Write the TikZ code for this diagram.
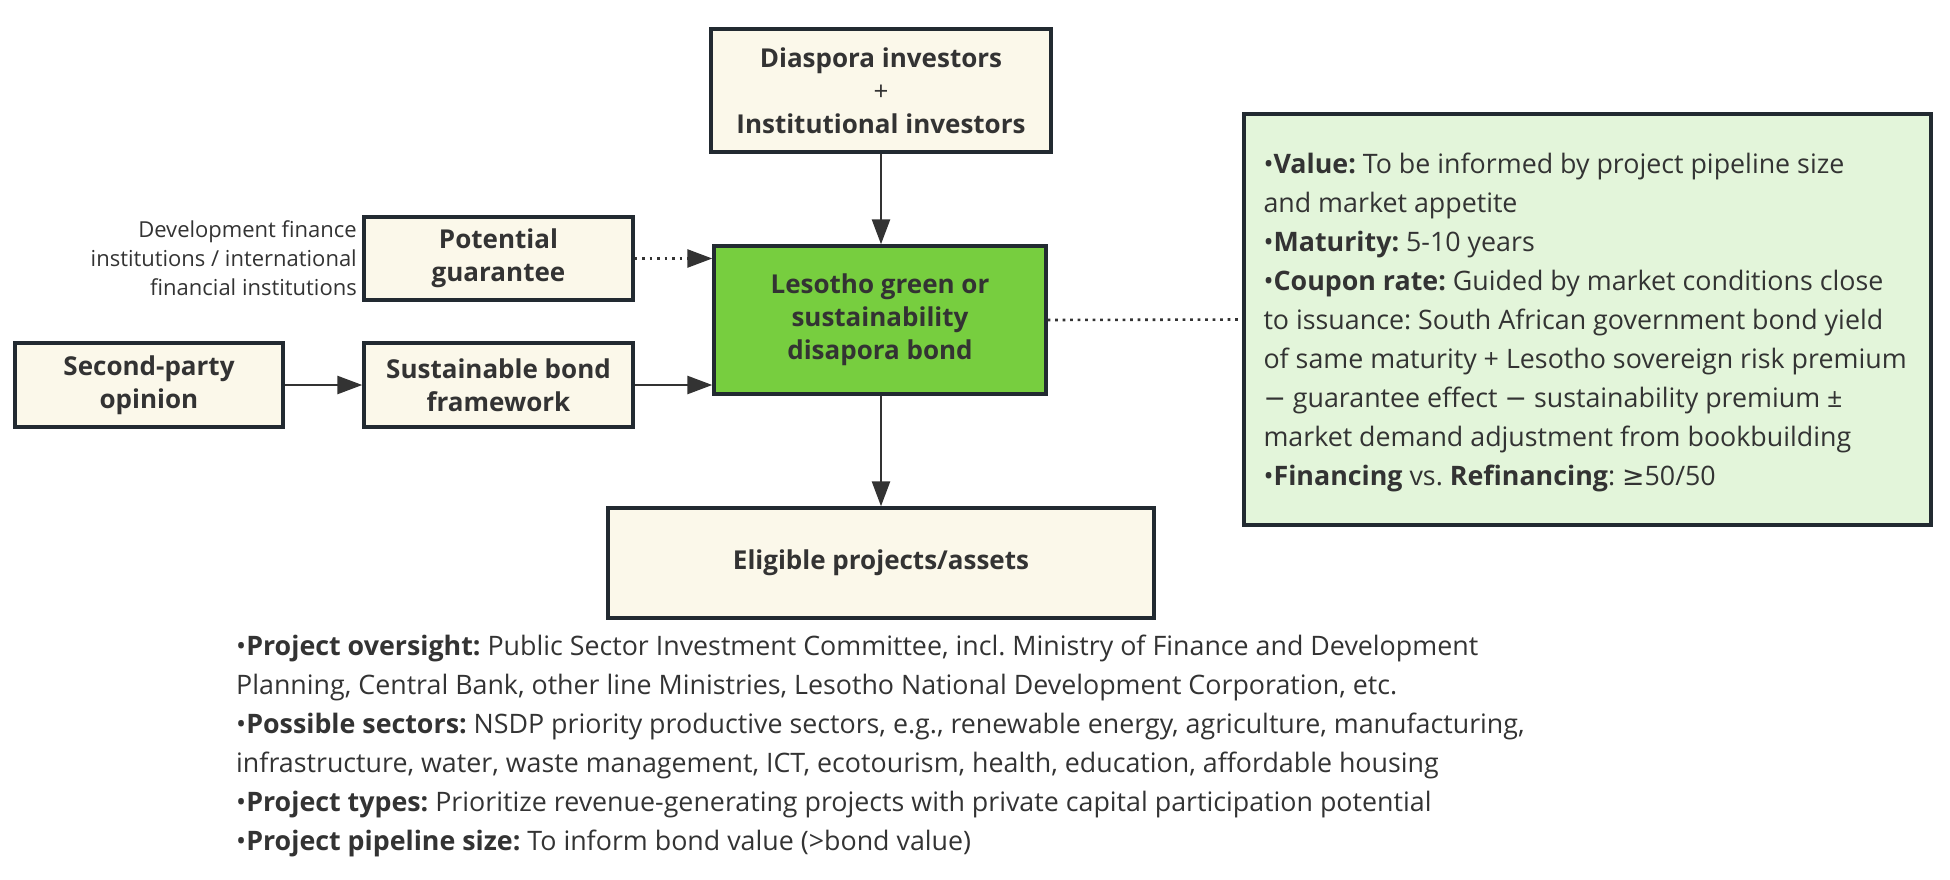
\documentclass[tikz,border=0pt]{standalone}
\usepackage{fontspec}
\setmainfont{Open Sans}
\newfontfamily\symfont{DejaVu Sans}
\usetikzlibrary{arrows.meta}
\frenchspacing
\definecolor{cream}{HTML}{FBF8EA}
\definecolor{bondgreen}{HTML}{77CE3F}
\definecolor{infogreen}{HTML}{E3F5DA}
\definecolor{edge}{HTML}{222A31}
\definecolor{txt}{HTML}{333333}
\tikzset{
  box/.style={draw=edge, line width=3.4pt, fill=cream, align=center, inner sep=0pt,
    font=\fontsize{26}{33}\selectfont\bfseries, text=txt},
  conn/.style={draw=txt, line width=2.6pt, -{Triangle[length=25pt,width=18pt]}},
  dotconn/.style={draw=txt, line width=2.6pt, dash pattern=on 2.6pt off 4.9pt},
  body/.style={font=\fontsize{26.8}{39}\selectfont\frenchspacing, text=txt, align=left, inner sep=0pt},
}
\begin{document}
\begin{tikzpicture}[x=1pt,y=-1pt]
\useasboundingbox (0,0) rectangle (1950,880);
% nodes
\node[box, minimum width=340pt, minimum height=123pt] (inv) at (881,90.5) {Diaspora investors\\{\mdseries +}\\Institutional investors};
\node[box, minimum width=269pt, minimum height=83pt] (guar) at (498.5,258.5) {Potential\\guarantee};
\node[font=\fontsize{22}{29}\selectfont, text=txt, align=right, anchor=east, inner sep=0pt] (dfi) at (357,258) {Development finance\\institutions / international\\financial institutions};
\node[box, minimum width=268pt, minimum height=84pt] (spo) at (149,385) {Second-party\\opinion};
\node[box, minimum width=269pt, minimum height=84pt] (sbf) at (498.5,385) {Sustainable bond\\framework};
\node[box, fill=bondgreen, minimum width=332pt, minimum height=148pt] (bond) at (880,320) {Lesotho green or\\sustainability\\disapora bond};
\node[box, minimum width=546pt, minimum height=110pt] (elig) at (881,563) {Eligible projects/assets};
\node[draw=edge, line width=3.4pt, fill=infogreen, minimum width=687pt, minimum height=411pt, inner sep=0pt] (info) at (1587.5,319.5) {};
\node[body, anchor=west] (infotext) at ([xshift=21pt,yshift=-2.5pt]info.west) {%
•\textbf{Value:} To be informed by project pipeline size\\
and market appetite\\
•\textbf{Maturity:} 5-10 years\\
•\textbf{Coupon rate:} Guided by market conditions close\\
to issuance: South African government bond yield\\
of same maturity + Lesotho sovereign risk premium\\
{\symfont −} guarantee effect {\symfont −} sustainability premium ±\\
market demand adjustment from bookbuilding\\
•\textbf{Financing} vs. \textbf{Refinancing}: {\symfont ≥}50/50};
\node[body, anchor=north west] (projtext) at (236,635) {%
•\textbf{Project oversight:} Public Sector Investment Committee, incl. Ministry of Finance and Development\\
Planning, Central Bank, other line Ministries, Lesotho National Development Corporation, etc.\\
•\textbf{Possible sectors:} NSDP priority productive sectors, e.g., renewable energy, agriculture, manufacturing,\\
infrastructure, water, waste management, ICT, ecotourism, health, education, affordable housing\\
•\textbf{Project types:} Prioritize revenue-generating projects with private capital participation potential\\
•\textbf{Project pipeline size:} To inform bond value (>bond value)};
% connectors
\draw[conn] (inv.south) -- (inv.south |- bond.north);
\draw[dotconn] (guar.east) -- ([xshift=-25pt]bond.west |- guar.east);
\draw[conn] ([xshift=-25pt]bond.west |- guar.east) -- (bond.west |- guar.east);
\draw[conn] (spo.east) -- (sbf.west);
\draw[conn] (sbf.east) -- (bond.west |- sbf.east);
\draw[conn] (elig.north |- bond.south) -- (elig.north);
\draw[dotconn] (bond.east) -- (info.west);
\end{tikzpicture}
\end{document}
